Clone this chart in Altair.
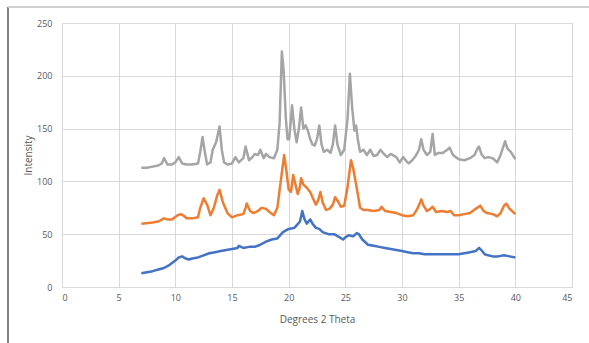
import altair as alt
import pandas as pd

# Gray (top) pattern
gray_x = [7.0, 7.5, 8.0, 8.5, 8.8, 9.0, 9.3, 9.7, 10.0, 10.3, 10.6, 11.0, 11.5, 12.0, 12.2, 12.4, 12.6, 12.8, 13.1, 13.3, 13.6, 13.9, 14.1, 14.3, 14.6, 15.0, 15.3, 15.6, 16.0, 16.2, 16.5, 16.8, 17.0, 17.3, 17.5, 17.8, 18.0, 18.3, 18.7, 19.0, 19.2, 19.4, 19.55, 19.75, 19.9, 20.05, 20.3, 20.5, 20.7, 20.9, 21.1, 21.3, 21.5, 21.7, 21.9, 22.1, 22.3, 22.5, 22.7, 22.9, 23.1, 23.4, 23.7, 23.9, 24.1, 24.3, 24.6, 24.9, 25.2, 25.4, 25.6, 25.8, 25.95, 26.1, 26.3, 26.6, 26.9, 27.2, 27.5, 27.8, 28.1, 28.4, 28.7, 29.0, 29.5, 29.8, 30.1, 30.4, 30.6, 30.9, 31.2, 31.5, 31.7, 31.9, 32.2, 32.5, 32.7, 32.9, 33.2, 33.6, 34.0, 34.2, 34.5, 35.0, 35.5, 36.0, 36.4, 36.7, 36.8, 37.0, 37.3, 37.6, 38.0, 38.4, 38.7, 39.0, 39.1, 39.3, 39.6, 40.0]
gray_y = [113, 113, 114, 115, 117, 122, 116, 116, 118, 123, 117, 116, 116, 117, 128, 142, 128, 116, 118, 130, 137, 152, 130, 118, 116, 117, 123, 118, 122, 133, 120, 123, 126, 125, 130, 122, 126, 123, 122, 130, 155, 223, 206, 160, 140, 140, 172, 150, 137, 150, 170, 150, 153, 148, 140, 135, 134, 140, 153, 135, 128, 130, 127, 135, 153, 135, 125, 130, 160, 202, 170, 148, 153, 140, 128, 130, 125, 130, 124, 125, 130, 126, 123, 126, 123, 118, 123, 119, 117, 120, 124, 130, 140, 130, 125, 128, 145, 125, 127, 127, 130, 132, 125, 121, 120, 122, 125, 132, 133, 126, 122, 123, 122, 118, 125, 135, 138, 131, 128, 121]

# Orange (middle) pattern
orange_x = [7.0, 8.0, 8.5, 9.0, 9.3, 9.7, 10.2, 10.5, 10.8, 11.0, 11.5, 12.0, 12.2, 12.5, 12.8, 13.1, 13.4, 13.7, 13.9, 14.2, 14.6, 15.0, 15.5, 16.0, 16.2, 16.3, 16.6, 16.9, 17.3, 17.6, 18.0, 18.3, 18.7, 19.0, 19.3, 19.6, 19.8, 20.0, 20.2, 20.4, 20.6, 20.8, 21.0, 21.1, 21.3, 21.6, 21.9, 22.1, 22.4, 22.6, 22.8, 23.0, 23.3, 23.6, 23.9, 24.1, 24.3, 24.6, 24.9, 25.2, 25.5, 25.7, 25.9, 26.1, 26.3, 26.6, 27.0, 27.5, 28.0, 28.2, 28.5, 29.0, 29.5, 30.0, 30.5, 31.0, 31.3, 31.6, 31.7, 31.9, 32.2, 32.5, 32.7, 33.0, 33.5, 34.0, 34.3, 34.6, 35.0, 35.5, 36.0, 36.5, 36.9, 37.2, 37.5, 38.0, 38.4, 38.7, 39.0, 39.2, 39.5, 39.8, 40.0]
orange_y = [60, 61, 62, 65, 64, 64, 68, 69, 67, 65, 65, 66, 75, 84, 78, 68, 75, 87, 92, 80, 70, 66, 68, 69, 75, 79, 72, 70, 72, 75, 74, 71, 68, 75, 100, 125, 110, 92, 90, 106, 97, 88, 95, 103, 97, 94, 90, 85, 78, 82, 90, 80, 73, 74, 78, 85, 82, 76, 77, 95, 120, 112, 100, 88, 75, 73, 73, 72, 73, 76, 72, 71, 70, 68, 67, 68, 73, 80, 83, 77, 72, 74, 76, 71, 72, 71, 72, 68, 68, 69, 70, 74, 77, 72, 70, 69, 67, 70, 77, 79, 74, 71, 69]

# Blue (bottom) pattern
blue_x = [7.0, 7.5, 8.0, 8.5, 9.0, 9.5, 10.0, 10.3, 10.6, 10.9, 11.2, 11.5, 12.0, 12.5, 13.0, 13.5, 14.0, 14.5, 15.0, 15.5, 15.6, 16.0, 16.5, 17.0, 17.5, 18.0, 18.5, 19.0, 19.5, 20.0, 20.5, 21.0, 21.2, 21.4, 21.6, 21.9, 22.1, 22.4, 22.7, 23.0, 23.5, 24.0, 24.5, 24.8, 25.0, 25.3, 25.7, 26.0, 26.2, 26.5, 27.0, 27.5, 28.0, 28.5, 29.0, 29.5, 30.0, 30.5, 31.0, 31.5, 32.0, 33.0, 34.0, 35.0, 35.5, 36.0, 36.5, 36.8, 37.0, 37.3, 37.6, 38.0, 38.5, 39.0, 39.5, 40.0]
blue_y = [13, 14, 15, 16.5, 18, 21, 25, 28, 29, 27, 26, 27, 28, 30, 32, 33, 34, 35, 36, 37, 39, 37, 38, 38, 40, 43, 45, 46, 52, 55, 56, 62, 72, 64, 60, 64, 60, 56, 55, 52, 50, 50, 47, 45, 47, 49, 48, 51, 50, 45, 40, 39, 38, 37, 36, 35, 34, 33, 32, 32, 31, 31, 31, 31, 32, 33, 34, 37, 35, 31, 30, 29, 29, 30, 29, 28]

series_names = ["Series1", "Series2", "Series3"]
series_colors = ["#4472C4", "#ED7D31", "#A5A5A5"]

x_ticks = [0, 5, 10, 15, 20, 25, 30, 35, 40, 45]
y_ticks = [0, 50, 100, 150, 200, 250]

rows = []
for name, xs, ys in [("Series1", blue_x, blue_y), ("Series2", orange_x, orange_y), ("Series3", gray_x, gray_y)]:
    for i, (a, b) in enumerate(zip(xs, ys)):
        rows.append({"series": name, "theta": a, "intensity": b, "order": i})
df = pd.DataFrame(rows)

FONT = "Open Sans"
LABEL_COLOR = "#595959"

lines = alt.Chart(df).mark_line(strokeWidth=2.5, strokeJoin="round").encode(
    x=alt.X("theta:Q", scale=alt.Scale(domain=[0, 45], nice=False),
            axis=alt.Axis(values=x_ticks, title="Degrees 2 Theta", grid=True, gridColor="#D9D9D9",
                          domainColor="#D9D9D9", ticks=False, labelPadding=6,
                          labelFontSize=9, labelColor=LABEL_COLOR, labelFont=FONT,
                          titleFont=FONT, titleFontSize=10, titleFontWeight="normal",
                          titleColor=LABEL_COLOR, titlePadding=12)),
    y=alt.Y("intensity:Q", scale=alt.Scale(domain=[0, 250], nice=False),
            axis=alt.Axis(values=y_ticks, title="Intensity", grid=True, gridColor="#D9D9D9",
                          domain=False, ticks=False, labelPadding=10,
                          labelFontSize=9, labelColor=LABEL_COLOR, labelFont=FONT,
                          titleFont=FONT, titleFontSize=10, titleFontWeight="normal",
                          titleColor=LABEL_COLOR, titlePadding=3)),
    color=alt.Color("series:N", scale=alt.Scale(domain=series_names, range=series_colors), legend=None),
    order="order:Q",
    detail="series:N",
)

frame_left = alt.Chart(df).mark_rule(color="#7F7F7F", strokeWidth=1.5, clip=False).encode(
    x=alt.value(-54), y=alt.value(-16), y2=alt.value(330))
frame_top = alt.Chart(df).mark_rule(color="#D0D0D0", strokeWidth=1, clip=False).encode(
    x=alt.value(-54), x2=alt.value(530), y=alt.value(-16))

chart = alt.layer(frame_left, frame_top, lines).properties(
    width=510, height=264,
    autosize=alt.AutoSizeParams(type="none"),
    padding={"left": 62, "top": 23, "right": 17, "bottom": 56},
).configure_view(stroke=None).configure(background="white")

chart.save("out.html", embed_options={"renderer": "svg", "actions": False})
